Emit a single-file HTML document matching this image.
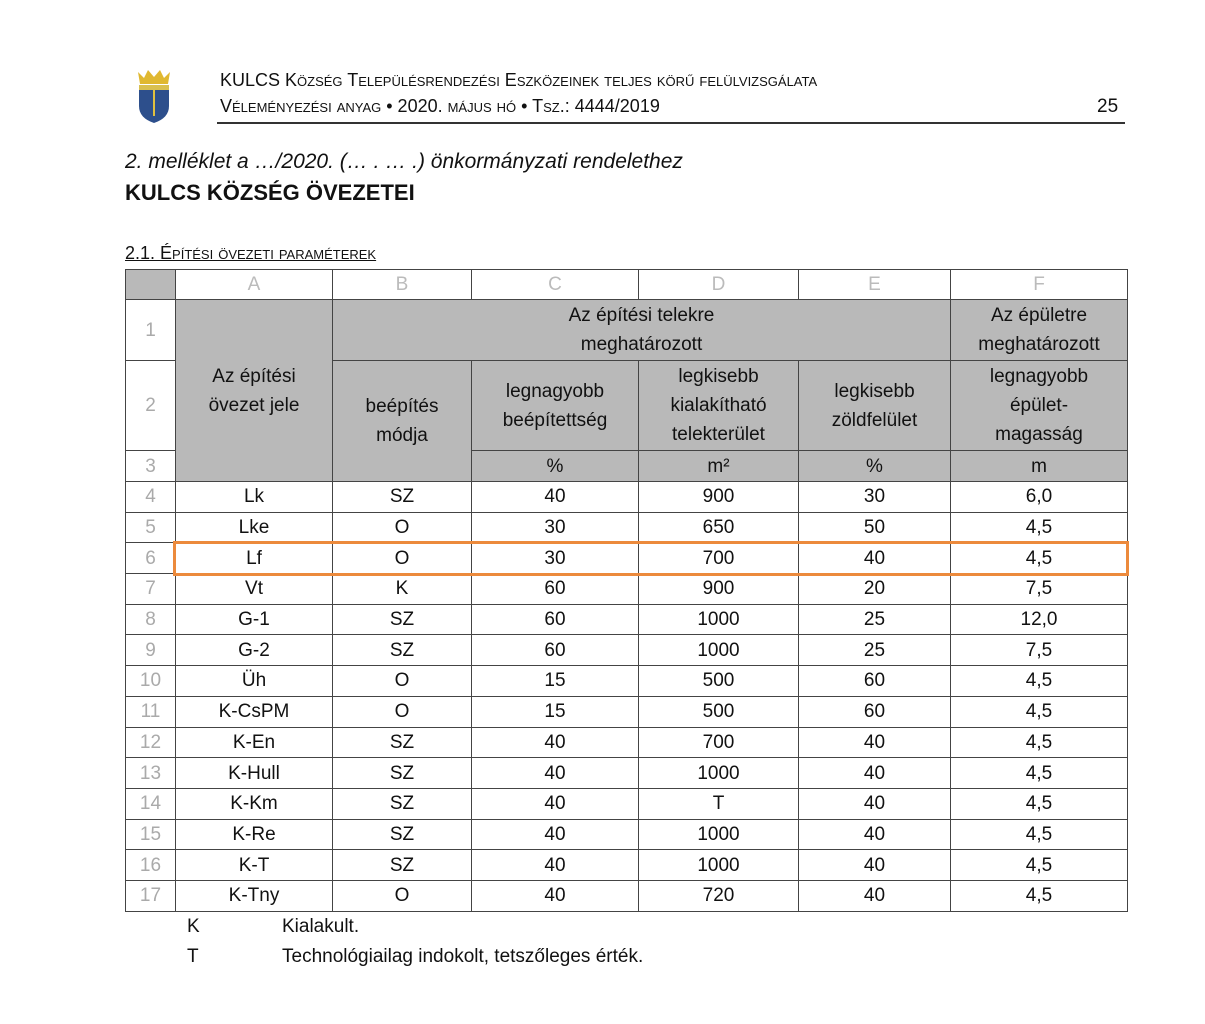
<!DOCTYPE html>
<html><head><meta charset="utf-8"><style>
body{margin:0;width:1205px;height:1024px;background:#fff;position:relative;font-family:"Liberation Sans",sans-serif;color:#111;overflow:hidden}
.a{position:absolute;white-space:nowrap}
table{position:absolute;left:125px;top:269px;border-collapse:collapse;table-layout:fixed;font-size:19px}
td{border:1.5px solid #444;text-align:center;padding:0;line-height:29px;overflow:hidden}
.g{background:#b9b9b9}
.n{color:#aaa}
.h td{color:#bbb;height:29px}
.d td{height:29.7px}
.sc{font-variant:small-caps}
</style></head><body>
<svg class="a" style="left:135px;top:68px" width="38" height="56" viewBox="0 0 38 56">
<path d="M3 4 L9 10 L13 2 L19 9 L25 2 L29 10 L35 4 L33 16 L5 16Z" fill="#e0b830"/>
<path d="M4 17 H34 V38 Q34 50 19 55 Q4 50 4 38Z" fill="#2d4f8c"/>
<path d="M4 17 H34 V22 H4Z" fill="#d9c050"/>
<rect x="18" y="22" width="2" height="26" fill="#e0c040"/>
</svg>
<div class="a sc" style="left:220px;top:70px;font-size:18px">KULCS Község Településrendezési Eszközeinek teljes körű felülvizsgálata</div>
<div class="a sc" style="left:220px;top:96px;font-size:18px">Véleményezési anyag • 2020. május hó • Tsz.: 4444/2019</div>
<div class="a" style="left:1097px;top:96px;font-size:19px">25</div>
<div class="a" style="left:217px;top:122px;width:908px;height:1.5px;background:#333"></div>
<div class="a" style="left:125px;top:150px;font-size:21px;font-style:italic">2. melléklet a …/2020. (… . … .) önkormányzati rendelethez</div>
<div class="a" style="left:125px;top:180px;font-size:22px;font-weight:bold">KULCS KÖZSÉG ÖVEZETEI</div>
<div class="a sc" style="left:125px;top:243px;font-size:18px;text-decoration:underline">2.1. Építési övezeti paraméterek</div>
<table>
<colgroup><col style="width:50px"><col style="width:157px"><col style="width:139px"><col style="width:167px"><col style="width:160px"><col style="width:152px"><col style="width:177px"></colgroup>
<tr class="h"><td class="g"></td><td>A</td><td>B</td><td>C</td><td>D</td><td>E</td><td>F</td></tr>
<tr><td class="n" style="height:60px">1</td><td class="g" rowspan="3" style="line-height:29px">Az építési<br>övezet jele</td><td class="g" colspan="4">Az építési telekre<br>meghatározott</td><td class="g">Az épületre<br>meghatározott</td></tr>
<tr><td class="n" style="height:89px">2</td><td class="g" rowspan="2">beépítés<br>módja</td><td class="g">legnagyobb<br>beépítettség</td><td class="g">legkisebb<br>kialakítható<br>telekterület</td><td class="g">legkisebb<br>zöldfelület</td><td class="g">legnagyobb<br>épület-<br>magasság</td></tr>
<tr><td class="n" style="height:30px">3</td><td class="g">%</td><td class="g">m²</td><td class="g">%</td><td class="g">m</td></tr>
<tr class="d"><td class="n">4</td><td>Lk</td><td>SZ</td><td>40</td><td>900</td><td>30</td><td>6,0</td></tr>
<tr class="d"><td class="n">5</td><td>Lke</td><td>O</td><td>30</td><td>650</td><td>50</td><td>4,5</td></tr>
<tr class="d"><td class="n">6</td><td>Lf</td><td>O</td><td>30</td><td>700</td><td>40</td><td>4,5</td></tr>
<tr class="d"><td class="n">7</td><td>Vt</td><td>K</td><td>60</td><td>900</td><td>20</td><td>7,5</td></tr>
<tr class="d"><td class="n">8</td><td>G-1</td><td>SZ</td><td>60</td><td>1000</td><td>25</td><td>12,0</td></tr>
<tr class="d"><td class="n">9</td><td>G-2</td><td>SZ</td><td>60</td><td>1000</td><td>25</td><td>7,5</td></tr>
<tr class="d"><td class="n">10</td><td>Üh</td><td>O</td><td>15</td><td>500</td><td>60</td><td>4,5</td></tr>
<tr class="d"><td class="n">11</td><td>K-CsPM</td><td>O</td><td>15</td><td>500</td><td>60</td><td>4,5</td></tr>
<tr class="d"><td class="n">12</td><td>K-En</td><td>SZ</td><td>40</td><td>700</td><td>40</td><td>4,5</td></tr>
<tr class="d"><td class="n">13</td><td>K-Hull</td><td>SZ</td><td>40</td><td>1000</td><td>40</td><td>4,5</td></tr>
<tr class="d"><td class="n">14</td><td>K-Km</td><td>SZ</td><td>40</td><td>T</td><td>40</td><td>4,5</td></tr>
<tr class="d"><td class="n">15</td><td>K-Re</td><td>SZ</td><td>40</td><td>1000</td><td>40</td><td>4,5</td></tr>
<tr class="d"><td class="n">16</td><td>K-T</td><td>SZ</td><td>40</td><td>1000</td><td>40</td><td>4,5</td></tr>
<tr class="d"><td class="n">17</td><td>K-Tny</td><td>O</td><td>40</td><td>720</td><td>40</td><td>4,5</td></tr>
</table>
<div class="a" style="left:173px;top:541px;width:950px;height:29px;border:3px solid #ec8a3c"></div>
<div class="a" style="left:187px;top:916px;font-size:19px">K</div>
<div class="a" style="left:282px;top:916px;font-size:19px">Kialakult.</div>
<div class="a" style="left:187px;top:946px;font-size:19px">T</div>
<div class="a" style="left:282px;top:946px;font-size:19px">Technológiailag indokolt, tetszőleges érték.</div>
</body></html>
